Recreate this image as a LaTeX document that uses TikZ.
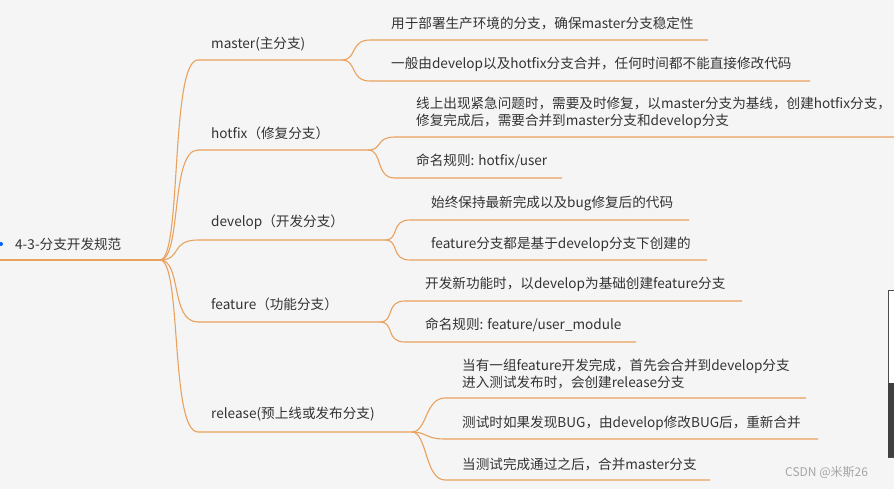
\documentclass[tikz,border=0pt]{standalone}
\usepackage{fontspec}
\setmainfont{Noto Sans CJK SC}
\definecolor{bgcol}{HTML}{F5F5F5}
\definecolor{linecol}{HTML}{E9A25E}
\definecolor{txtcol}{HTML}{333333}
\tikzset{
  lbl/.style={anchor=west,inner sep=0pt,text=txtcol,font=\fontsize{13.6}{17}\selectfont,align=left},
  br/.style={linecol,line width=1.1pt},
}
\begin{document}
\begin{tikzpicture}[x=1pt,y=-1pt]
  \fill [bgcol] (0,0) rectangle (894,489);
  \useasboundingbox (0,0) rectangle (894,489);
  % root
  \fill [blue!60!cyan] (1,244) circle (2);
  \node [lbl] (root) at (15,244) {4-3-分支开发规范};
  \coordinate (hub) at (160,260);
  \draw [br] (0,260) -- (hub);
  % branches: name/text y/line y/end x
  \foreach \nm/\ty/\uy/\ex/\tx in {mas/44/60/342/{master(主分支)},
      hot/133/150/368/{hotfix（修复分支）},
      dev/222/240/385/{develop（开发分支）},
      fea/304/322/380/{feature（功能分支）},
      rel/414/432/412/{release(预上线或发布分支)}}{
    \node [lbl] (\nm) at (211,\ty) {\tx};
    \coordinate (\nm-end) at (\ex,\uy);
    \draw [br] (hub) .. controls (182,260) and (170,\uy) .. (198,\uy) -- (\nm-end);
  }
  % leaves: parent/text x/text y/line y/line start/line end
  \foreach \pa/\lx/\ty/\uy/\sx/\ex/\tx in {
      mas/391/23/40/370/708/{用于部署生产环境的分支，确保master分支稳定性},
      mas/391/64/81/370/810/{一般由develop以及hotfix分支合并，任何时间都不能直接修改代码},
      hot/416/113/137/395/894/{线上出现紧急问题时，需要及时修复，以master分支为基线，创建hotfix分支，\\修复完成后，需要合并到master分支和develop分支},
      hot/416/161/178/395/562/{命名规则: hotfix/user},
      dev/431/203/220/410/689/{始终保持最新完成以及bug修复后的代码},
      dev/431/244/260/410/707/{feature分支都是基于develop分支下创建的},
      fea/425/284/301/405/742/{开发新功能时，以develop为基础创建feature分支},
      fea/425/325/342/405/636/{命名规则: feature/user\_module},
      rel/462/374/398/445/806/{当有一组feature开发完成，首先会合并到develop分支\\进入测试发布时，会创建release分支},
      rel/462/423/439/445/818/{测试时如果发现BUG，由develop修改BUG后，重新合并},
      rel/462/464/480/445/710/{当测试完成通过之后，合并master分支}}{
    \node [lbl] at (\lx,\ty) {\tx};
    \draw [br] (\pa-end) .. controls +(15,0) and (\sx-20,\uy) .. (\sx,\uy) -- (\ex,\uy);
  }
  % side bar and watermark
  \filldraw [fill=white,draw=black!70] (888,290) rectangle (895,457);
  \fill [black!75] (888,383) rectangle (895,457);
  \node [lbl,text=black!35,font=\fontsize{12}{14}\selectfont] (mark) at (785,473) {CSDN @米斯26};
\end{tikzpicture}
\end{document}
